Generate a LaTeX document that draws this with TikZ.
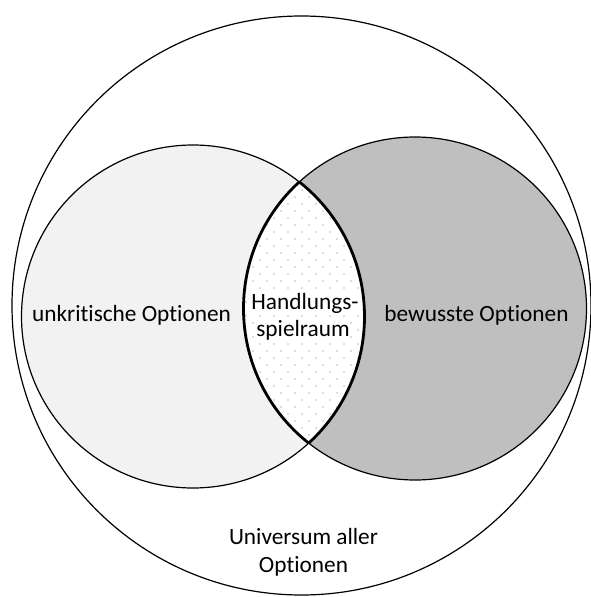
\documentclass[tikz,border=0pt]{standalone}
\usepackage{fontspec}
\setmainfont{Carlito}[Ligatures=NoCommon]
\begin{document}
\begin{tikzpicture}[x=1pt,y=-1pt,
  thinline/.style={draw=black,line width=1.2pt},
  lensline/.style={draw=black,line width=2.8pt},
  label/.style={font=\fontsize{23.3}{30}\selectfont,inner sep=0pt},
  lenslabel/.style={label,fill=white,inner sep=0.8pt},
  patdot/.style={fill=black!55}]
\useasboundingbox (0,0) rectangle (591,597);
\coordinate (cU) at (301.5,305.5);
\coordinate (cL) at (193,316.5);
\coordinate (cR) at (415,308.5);
\def\rU{289.5pt}
\def\rS{171.5pt}
% universe of all options
\draw[thinline,fill=white] (cU) circle[radius=\rU];
% the two option sets
\fill[black!5] (cL) circle[radius=\rS];
\draw[thinline] (cL) circle[radius=\rS];
\fill[black!25] (cR) circle[radius=\rS];
\draw[thinline] (cR) circle[radius=\rS];
% intersection: white with a dot pattern
\begin{scope}
  \clip (cL) circle[radius=\rS];
  \clip (cR) circle[radius=\rS];
  \fill[white] (cL) circle[radius=\rS];
  \foreach \i in {0,...,20} {
    \foreach \j in {0,...,11} {
      \fill[patdot] ({232+14*\j},{176+14*\i}) circle[radius=0.6pt];
      \fill[patdot] ({239+14*\j},{183+14*\i}) circle[radius=0.6pt];
    }
  }
\end{scope}
% heavy outline of the intersection
\begin{scope}
  \clip (cL) circle[radius=\rS];
  \draw[lensline] (cR) circle[radius=\rS];
\end{scope}
\begin{scope}
  \clip (cR) circle[radius=\rS];
  \draw[lensline] (cL) circle[radius=\rS];
\end{scope}
% labels
\node[label] (uo) at (131.5,315) {unkritische Optionen};
\node[label] (bo) at (476.5,315) {bewusste Optionen};
\node[lenslabel] (h1) at (305,303) {Handlungs-};
\node[lenslabel] (h2) at (303,330) {spielraum};
\node[label] (u1) at (303.5,536) {Universum aller};
\node[label] (u2) at (303.5,566) {Optionen};
\end{tikzpicture}
\end{document}
